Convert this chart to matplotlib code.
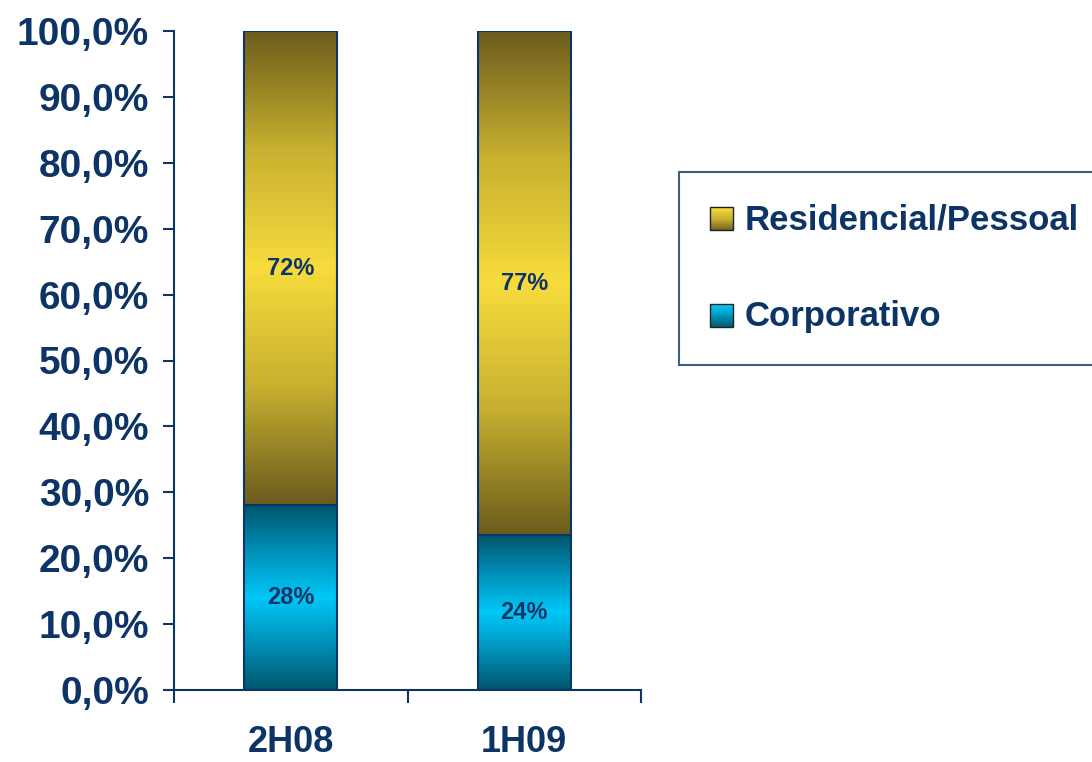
import numpy as np
import matplotlib.pyplot as plt
from matplotlib.colors import LinearSegmentedColormap
from matplotlib.patches import Rectangle
from matplotlib.legend_handler import HandlerBase

plt.rcParams['font.family'] = ['Liberation Sans', 'DejaVu Sans']
plt.rcParams['font.weight'] = 'bold'

categories = ['2H08', '1H09']
corporativo = [28.0, 23.5]
residencial = [72.0, 76.5]
corp_labels = ['28%', '24%']
res_labels = ['72%', '77%']
yticks = [0, 10, 20, 30, 40, 50, 60, 70, 80, 90, 100]

navy = '#0d3466'
yellow_cmap = LinearSegmentedColormap.from_list('y', ['#6b5c1c', '#c8b030', '#f7dc3c', '#c8b030', '#6b5c1c'])
blue_cmap = LinearSegmentedColormap.from_list('b', ['#00566e', '#0090b8', '#00c8f8', '#0090b8', '#00566e'])

fig = plt.figure(figsize=(10.92, 7.62), dpi=100)
ax = fig.add_axes([174 / 1092, 1 - 690 / 762, 467 / 1092, 659 / 762])

x = np.arange(len(categories))
width = 0.40
grad = np.linspace(0, 1, 256).reshape(-1, 1)


def grad_bar(xc, bottom, height, cmap):
    rect = ax.bar(xc, height, width, bottom=bottom, facecolor='none',
                  edgecolor=navy, linewidth=1.5, zorder=3)[0]
    im = ax.imshow(grad, cmap=cmap, aspect='auto', zorder=2,
                   extent=[xc - width / 2, xc + width / 2, bottom, bottom + height],
                   origin='lower')
    im.set_clip_path(rect)


for i in range(len(categories)):
    grad_bar(x[i], 0, corporativo[i], blue_cmap)
    grad_bar(x[i], corporativo[i], residencial[i], yellow_cmap)
    ax.text(x[i], corporativo[i] / 2, corp_labels[i], ha='center', va='center',
            fontsize=17, color=navy, fontweight='bold', zorder=4)
    ax.text(x[i], corporativo[i] + residencial[i] / 2, res_labels[i], ha='center',
            va='center', fontsize=17, color=navy, fontweight='bold', zorder=4)

ax.set_xlim(-0.5, len(categories) - 0.5)
ax.set_ylim(0, 100)
ax.set_yticks(yticks)
ax.set_yticklabels([f'{v:.1f}%'.replace('.', ',') for v in yticks])
ax.set_xticks(np.arange(-0.5, len(categories)), labels=[])
ax.set_xticks(x, categories, minor=True)
ax.tick_params(axis='x', which='minor', length=0, pad=25, labelsize=26, labelcolor=navy)
ax.tick_params(axis='x', which='major', length=9, width=1.5, color=navy, direction='out')
ax.tick_params(axis='y', length=8, width=1.5, color=navy, direction='out',
               labelsize=28, labelcolor=navy, pad=10)
for s in ['top', 'right']:
    ax.spines[s].set_visible(False)
for s in ['left', 'bottom']:
    ax.spines[s].set_color(navy)
    ax.spines[s].set_linewidth(1.5)


class GradHandler(HandlerBase):
    def __init__(self, cmap):
        super().__init__()
        self.cmap = cmap

    def create_artists(self, legend, orig_handle, xd, yd, w, h, fontsize, trans):
        arts = []
        n = 12
        side = h
        x0 = xd + (w - side) / 2
        for k in range(n):
            c = self.cmap(0.5 + 0.5 * k / n)
            arts.append(Rectangle((x0, yd + (n - k - 1) * side / n), side, side / n,
                                  facecolor=c, edgecolor='none', transform=trans))
        arts.append(Rectangle((x0, yd), side, side, facecolor='none',
                              edgecolor='#222222', linewidth=1, transform=trans))
        return arts


h_res = Rectangle((0, 0), 1, 1)
h_corp = Rectangle((0, 0), 1, 1)
leg = fig.legend([h_res, h_corp], ['Residencial/Pessoal', 'Corporativo'],
                 handler_map={h_res: GradHandler(yellow_cmap), h_corp: GradHandler(blue_cmap)},
                 loc='upper left', bbox_to_anchor=(679 / 1092, 1 - 172 / 762),
                 fontsize=25, frameon=True, fancybox=False, borderpad=0.9,
                 labelspacing=1.85, handlelength=0.65, handleheight=0.65, handletextpad=0.35,
                 borderaxespad=0)
leg.get_frame().set_edgecolor(navy)
leg.get_frame().set_linewidth(1.5)
for t in leg.get_texts():
    t.set_color(navy)
    t.set_fontweight('bold')

fig.savefig('out.png', dpi=100)
